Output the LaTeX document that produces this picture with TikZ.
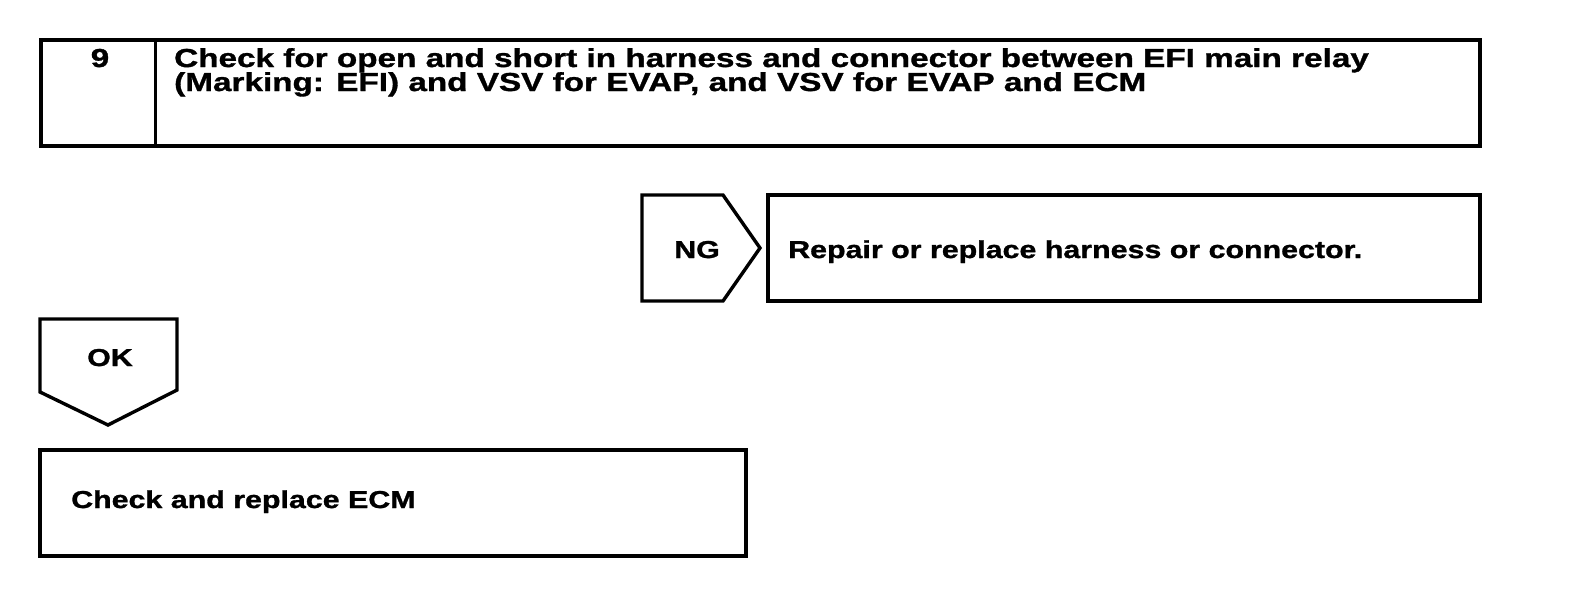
\documentclass[tikz,border=0pt]{standalone}
\usepackage{fontspec}
\setmainfont{Liberation Sans}
\newfontfamily\stepfont[FakeStretch=1.24, FakeBold=1.2]{Liberation Sans}
\newfontfamily\headfont[FakeStretch=1.28, FakeBold=1.2]{Liberation Sans}
\usetikzlibrary{positioning}

\begin{document}
\begin{tikzpicture}[
			x=1pt, y=-1pt,
			box/.style={rectangle, draw, line width=3.2pt, inner sep=0pt},
			tag/.style={draw, line width=3.4pt, line join=miter},
			txt/.style={inner sep=0pt, anchor=base west, font=\stepfont\fontsize{24.5}{21}\selectfont\bfseries},
			head/.style={txt, font=\headfont\fontsize{26}{21}\selectfont\bfseries}
		]
		\useasboundingbox (0,0) rectangle (1584,598);
		
		% Step header
		\node[box, minimum width=1439, minimum height=106] (step) at (760.5,93) {};
		\draw[line width=3.4pt] (step.north west) ++(116,0) coordinate (divtop) -- (divtop |- step.south);
		\node[head, anchor=base] (num) at (100,67) {9};
		\node[head] (title1) at (174,67) {Check for open and short in harness and connector between EFI main relay};
		\node[head] (title2) at (174,91) {(Marking: EFI) and VSV for EVAP, and VSV for EVAP and ECM};
		
		% NG branch
		\draw[tag] (642,195) -- (723,195) -- (760,248) -- (723,301) -- (642,301) -- cycle;
		\node[txt, anchor=base] (ng) at (697,258) {NG};
		\node[box, minimum width=712, minimum height=106] (repair) at (1124,248) {};
		\node[txt] (repairtxt) at (788,258) {Repair or replace harness or connector.};
		
		% OK branch
		\draw[tag] (40,319) -- (177,319) -- (177,390) -- (108,425) -- (40,392) -- cycle;
		\node[txt, anchor=base] (ok) at (110,366) {OK};
		\node[box, minimum width=706, minimum height=106] (ecm) at (393,503) {};
		\node[txt] (ecmtxt) at (71,508) {Check and replace ECM};
		\end{tikzpicture}
\end{document}
